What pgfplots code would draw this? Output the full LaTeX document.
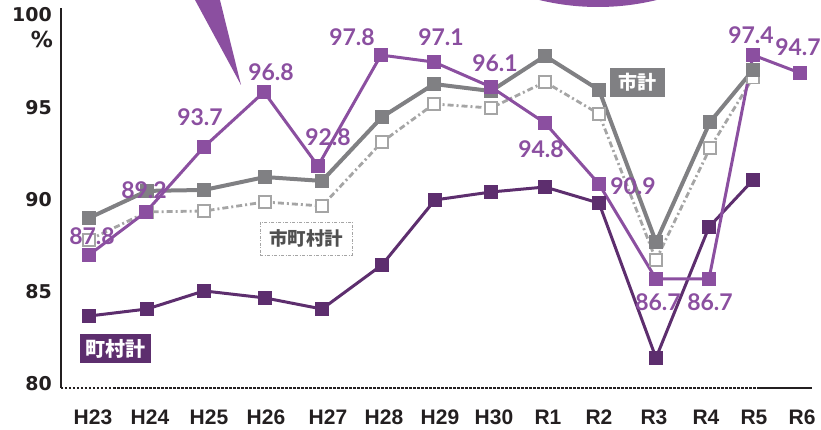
\documentclass[border=0pt]{standalone}
\usepackage{pgfplots}
\pgfplotsset{compat=1.18}
\usepackage{fontspec}
\setmainfont{Lato}
\newfontfamily\tickfont{Liberation Sans}
\newfontfamily\yfont{DejaVu Sans}
\newfontfamily\cjk{Noto Sans CJK JP}
\definecolor{pL}{RGB}{139,79,160}
\definecolor{pD}{RGB}{93,46,110}
\definecolor{grayD}{RGB}{128,128,131}
\definecolor{grayL}{RGB}{165,165,165}
\definecolor{txt}{RGB}{35,31,32}
\definecolor{txtg}{RGB}{80,80,80}
\newcommand{\lab}[3]{\node[font=\bfseries\fontsize{23}{23}\selectfont, text=pL, inner sep=0pt] at ({#1-61},{388-#2}) {#3};}
\begin{document}
\begin{tikzpicture}[x=1pt,y=1pt]
\path[use as bounding box] (-61,-42) rectangle (760,388);
% decorations at the top
\fill[pL] ({189.6-61},398) -- ({217.5-61},398) -- ({241-61},{388-85}) -- cycle;
\fill[pL] ({598-61},{388+241}) circle (248);
\begin{axis}[at={(0,0)}, anchor=south west, scale only axis,
  width=751pt, height=380pt,
  xmin=61, xmax=812, ymin=79.78, ymax=100.37, clip=false,
  axis line style={draw=none}, major tick length=0pt,
  xtick={93,150,209,266,328,384,440,494,548,599,654,706,754,802},
  xticklabels={H23,H24,H25,H26,H27,H28,H29,H30,R1,R2,R3,R4,R5,R6},
  xticklabel style={font=\tickfont\bfseries\fontsize{21}{21}\selectfont, text=txt, inner sep=0pt, anchor=north, yshift=-22pt},
  ytick={80,85,90,95,100},
  yticklabels={80,85,90,95,100},
  yticklabel style={font=\yfont\bfseries\fontsize{19}{19}\selectfont, text=txt, inner sep=0pt, anchor=east, xshift=-9pt},
]
\draw[line width=1.5pt, color=txt] (rel axis cs:0,0) -- (rel axis cs:0,1);
\draw[line width=1.6pt, color=txt, dash pattern=on 2.5pt off 1.5pt] (axis cs:61,79.78) -- (axis cs:758,79.78);
\draw[line width=1.8pt, color=txt] (axis cs:758,79.78) -- (axis cs:812,79.78);
% 市町村計
\addplot[grayL, line width=2.8pt, dash pattern=on 6pt off 3pt on 2pt off 3pt, mark=square*, mark size=6pt, mark options={solid, fill=white, draw=grayL, line width=1.5pt}] table {
x y
89 87.80
147 89.32
204 89.37
265 89.86
322 89.64
382 93.11
434 95.17
491 94.95
545 96.36
599 94.63
656 86.72
710 92.78
753 96.60
};
% 市計
\addplot[grayD, line width=4pt, mark=square*, mark size=6.5pt, mark options={solid, line width=0.5pt}] table {
x y
89 88.99
147 90.46
204 90.51
265 91.21
322 91.00
382 94.46
434 96.25
491 95.87
545 97.77
599 95.93
656 87.69
710 94.19
753 97.01
};
% 町村計
\addplot[pD, line width=3pt, mark=square*, mark size=6.5pt, mark options={solid, line width=0.5pt}] table {
x y
89 83.68
147 84.06
204 85.04
265 84.66
322 84.06
382 86.45
435 89.97
491 90.40
545 90.67
599 89.80
656 81.41
709 88.50
753 91.05
};
% labelled series
\addplot[pL, line width=3pt, mark=square*, mark size=6.5pt, mark options={solid, line width=0.5pt}] table {
x y
89 86.99
146 89.32
204 92.84
264 95.82
318 91.81
381 97.82
434 97.44
491 96.09
545 94.14
599 90.83
656 85.69
709 85.69
753 97.82
800 96.85
};
\end{axis}
\node[font=\yfont\bfseries\fontsize{22}{22}\selectfont, text=txt, inner sep=0pt, anchor=east] at ({53-61},{388-40}) {\%};
\lab{92}{236}{87.8}
\lab{144}{190}{89.2}
\lab{200}{117}{93.7}
\lab{271}{72}{96.8}
\lab{328}{137}{92.8}
\lab{352}{37}{97.8}
\lab{441}{37}{97.1}
\lab{495}{63}{96.1}
\lab{541}{149}{94.8}
\lab{633}{186}{90.9}
\lab{658}{302}{86.7}
\lab{710}{302}{86.7}
\lab{751}{35}{97.4}
\lab{798}{47}{94.7}
\node[fill=grayD, text=white, font=\cjk\bfseries\fontsize{19}{19}\selectfont, minimum width=55pt, minimum height=29pt, inner sep=0pt] at ({637.5-61},{388-82.5}) {市計};
\node[draw=grayL, dash pattern=on 3pt off 1.5pt on 1pt off 1.5pt, line width=0.9pt, fill=white, text=txtg, font=\cjk\bfseries\fontsize{18.5}{18.5}\selectfont, minimum width=92pt, minimum height=33pt, inner sep=0pt] at ({306-61},{388-238.5}) {市町村計};
\node[fill=pD, text=white, font=\cjk\bfseries\fontsize{20}{20}\selectfont, minimum width=71pt, minimum height=29pt, inner sep=0pt] at ({115.5-61},{388-348.5}) {町村計};
\end{tikzpicture}
\end{document}
